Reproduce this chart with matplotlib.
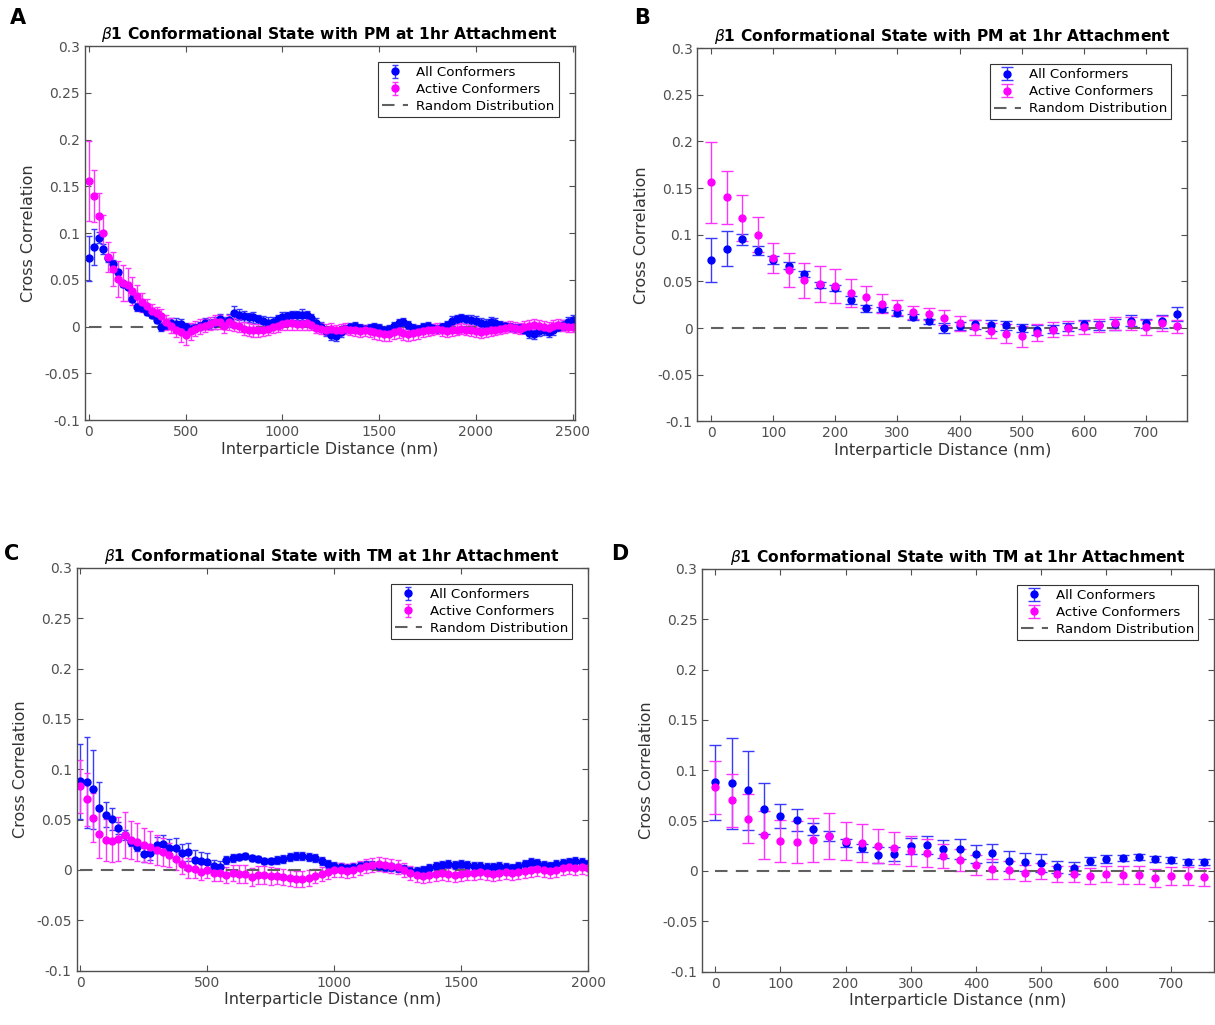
import numpy as np
import matplotlib.pyplot as plt
from matplotlib.ticker import FuncFormatter

plt.rcParams['font.family'] = 'DejaVu Sans'

# distance bins (nm), 25 nm spacing
dist_pm = np.arange(0, 2501, 25)
dist_tm = np.arange(0, 2001, 25)

# PM, all conformers
pm_all = [0.073, 0.085, 0.095, 0.083, 0.073, 0.067, 0.058, 0.046, 0.043, 0.030,
          0.021, 0.020, 0.016, 0.012, 0.007, 0.000, 0.002, 0.004, 0.003, 0.003,
          0.000, -0.002, -0.001, 0.001, 0.004, 0.003, 0.004, 0.008, 0.005, 0.007,
          0.015, 0.013, 0.011, 0.010, 0.010, 0.008, 0.006, 0.004, 0.005, 0.008,
          0.010, 0.011, 0.012, 0.012, 0.013, 0.012, 0.009, 0.004, 0.000, -0.005,
          -0.009, -0.010, -0.006, -0.002, 0.000, 0.001, -0.001, -0.002, -0.001, 0.000,
          -0.001, -0.003, -0.002, 0.001, 0.004, 0.005, 0.002, -0.001, -0.002, 0.000,
          0.001, -0.001, -0.002, 0.000, 0.002, 0.006, 0.008, 0.009, 0.008, 0.007,
          0.006, 0.004, 0.003, 0.005, 0.004, 0.002, 0.001, 0.000, -0.001, -0.001,
          -0.003, -0.007, -0.008, -0.005, -0.004, -0.006, -0.004, 0.000, 0.002, 0.005,
          0.007]
pm_all_err = [0.024, 0.019, 0.006, 0.005, 0.004, 0.004, 0.003, 0.003, 0.003, 0.004,
              0.004, 0.003, 0.003, 0.003, 0.003, 0.005, 0.004, 0.005, 0.006, 0.005,
              0.004, 0.005, 0.004, 0.004, 0.005, 0.005, 0.006, 0.006, 0.005, 0.007,
              0.007, 0.006, 0.006, 0.005, 0.006, 0.005, 0.005, 0.006, 0.005, 0.005,
              0.006, 0.005, 0.005, 0.005, 0.006, 0.005, 0.005, 0.005, 0.005, 0.005,
              0.005, 0.005, 0.005, 0.004, 0.004, 0.004, 0.004, 0.004, 0.004, 0.004,
              0.004, 0.004, 0.004, 0.004, 0.004, 0.004, 0.004, 0.004, 0.004, 0.004,
              0.004, 0.004, 0.004, 0.004, 0.004, 0.005, 0.005, 0.005, 0.005, 0.005,
              0.005, 0.005, 0.005, 0.005, 0.005, 0.004, 0.004, 0.004, 0.004, 0.004,
              0.004, 0.005, 0.005, 0.005, 0.005, 0.005, 0.005, 0.005, 0.005, 0.005,
              0.005]

# PM, active conformers
pm_act = [0.156, 0.140, 0.118, 0.100, 0.075, 0.062, 0.051, 0.047, 0.045, 0.038,
          0.033, 0.026, 0.022, 0.017, 0.015, 0.011, 0.005, 0.001, -0.003, -0.006,
          -0.009, -0.005, -0.002, 0.000, 0.001, 0.003, 0.005, 0.005, 0.001, 0.005,
          0.002, 0.001, -0.002, -0.003, -0.004, -0.004, -0.003, -0.002, 0.000, 0.001,
          0.003, 0.004, 0.004, 0.003, 0.003, 0.004, 0.002, -0.001, -0.002, -0.003,
          -0.002, -0.004, -0.003, -0.002, -0.003, -0.004, -0.005, -0.004, -0.005, -0.006,
          -0.007, -0.008, -0.008, -0.006, -0.005, -0.007, -0.008, -0.007, -0.006, -0.005,
          -0.004, -0.003, -0.002, -0.004, -0.005, -0.004, -0.003, -0.002, -0.003, -0.004,
          -0.005, -0.006, -0.005, -0.004, -0.003, -0.002, -0.001, 0.000, -0.001, -0.002,
          0.000, 0.001, 0.002, 0.001, 0.000, -0.001, 0.001, 0.002, 0.001, 0.000,
          0.000]
pm_act_err = [0.043, 0.028, 0.025, 0.019, 0.016, 0.018, 0.019, 0.019, 0.018, 0.015,
              0.012, 0.010, 0.008, 0.007, 0.006, 0.008, 0.008, 0.008, 0.008, 0.010,
              0.011, 0.009, 0.008, 0.008, 0.007, 0.007, 0.007, 0.007, 0.008, 0.008,
              0.007, 0.007, 0.007, 0.007, 0.007, 0.007, 0.007, 0.007, 0.007, 0.007,
              0.007, 0.007, 0.007, 0.007, 0.007, 0.007, 0.006, 0.006, 0.006, 0.006,
              0.006, 0.006, 0.006, 0.006, 0.006, 0.006, 0.006, 0.006, 0.006, 0.007,
              0.007, 0.007, 0.007, 0.007, 0.007, 0.007, 0.007, 0.007, 0.007, 0.006,
              0.006, 0.006, 0.006, 0.006, 0.006, 0.006, 0.006, 0.006, 0.006, 0.006,
              0.006, 0.006, 0.006, 0.006, 0.006, 0.006, 0.006, 0.006, 0.006, 0.006,
              0.006, 0.006, 0.006, 0.006, 0.006, 0.006, 0.006, 0.006, 0.006, 0.006,
              0.006]

# TM, all conformers
tm_all = [0.088, 0.087, 0.080, 0.062, 0.055, 0.051, 0.042, 0.035, 0.028, 0.023,
          0.016, 0.017, 0.025, 0.026, 0.022, 0.022, 0.017, 0.018, 0.010, 0.009,
          0.008, 0.004, 0.003, 0.010, 0.012, 0.013, 0.014, 0.012, 0.011, 0.009,
          0.009, 0.010, 0.011, 0.013, 0.014, 0.014, 0.013, 0.012, 0.009, 0.006,
          0.004, 0.003, 0.002, 0.003, 0.004, 0.005, 0.005, 0.004, 0.003, 0.003,
          0.002, 0.001, -0.001, -0.001, 0.000, 0.002, 0.004, 0.005, 0.006, 0.005,
          0.006, 0.005, 0.004, 0.004, 0.003, 0.003, 0.004, 0.003, 0.002, 0.004,
          0.006, 0.008, 0.007, 0.005, 0.004, 0.006, 0.007, 0.008, 0.009, 0.008,
          0.006]
tm_all_err = [0.037, 0.045, 0.039, 0.025, 0.012, 0.011, 0.006, 0.005, 0.004, 0.004,
              0.008, 0.007, 0.008, 0.009, 0.009, 0.010, 0.009, 0.009, 0.010, 0.009,
              0.009, 0.006, 0.006, 0.004, 0.004, 0.003, 0.003, 0.003, 0.003, 0.003,
              0.003, 0.004, 0.004, 0.004, 0.004, 0.004, 0.004, 0.004, 0.004, 0.004,
              0.004, 0.004, 0.004, 0.004, 0.004, 0.004, 0.004, 0.004, 0.004, 0.004,
              0.004, 0.004, 0.004, 0.004, 0.004, 0.004, 0.004, 0.004, 0.004, 0.004,
              0.004, 0.004, 0.004, 0.004, 0.004, 0.004, 0.004, 0.004, 0.004, 0.004,
              0.004, 0.004, 0.004, 0.004, 0.004, 0.004, 0.004, 0.004, 0.004, 0.004,
              0.004]

# TM, active conformers
tm_act = [0.083, 0.070, 0.052, 0.036, 0.030, 0.029, 0.031, 0.035, 0.030, 0.028,
          0.025, 0.023, 0.020, 0.018, 0.015, 0.011, 0.006, 0.002, 0.001, -0.002,
          0.000, -0.003, -0.003, -0.005, -0.003, -0.004, -0.004, -0.007, -0.005, -0.005,
          -0.006, -0.006, -0.007, -0.008, -0.009, -0.009, -0.008, -0.006, -0.004, -0.002,
          0.000, 0.000, -0.001, 0.000, 0.002, 0.004, 0.005, 0.006, 0.005, 0.004,
          0.003, 0.000, -0.003, -0.005, -0.006, -0.005, -0.004, -0.003, -0.004, -0.005,
          -0.004, -0.003, -0.003, -0.002, -0.003, -0.004, -0.003, -0.002, -0.003, -0.002,
          -0.001, 0.000, 0.001, 0.000, -0.001, 0.000, 0.002, 0.003, 0.002, 0.003,
          0.002]
tm_act_err = [0.026, 0.026, 0.024, 0.024, 0.021, 0.021, 0.022, 0.023, 0.019, 0.019,
              0.017, 0.016, 0.015, 0.014, 0.012, 0.011, 0.010, 0.010, 0.009, 0.008,
              0.008, 0.008, 0.008, 0.008, 0.008, 0.009, 0.009, 0.009, 0.009, 0.009,
              0.009, 0.008, 0.008, 0.008, 0.008, 0.008, 0.008, 0.007, 0.007, 0.007,
              0.007, 0.007, 0.007, 0.007, 0.007, 0.007, 0.007, 0.007, 0.007, 0.007,
              0.007, 0.007, 0.007, 0.007, 0.007, 0.007, 0.007, 0.007, 0.007, 0.007,
              0.007, 0.007, 0.007, 0.007, 0.007, 0.007, 0.007, 0.007, 0.007, 0.007,
              0.007, 0.007, 0.007, 0.007, 0.007, 0.007, 0.007, 0.007, 0.007, 0.007,
              0.007]

grey = '#505050'


def panel(ax, x, y_all, e_all, y_act, e_act, title, xlim, xticks, cap):
    h1 = ax.errorbar(x, y_all, yerr=e_all, fmt='o', color='#0000ff', ecolor='#3a3aff',
                     markersize=5, elinewidth=1, capsize=cap, capthick=1)
    h2 = ax.errorbar(x, y_act, yerr=e_act, fmt='o', color='#ff00ff', ecolor='#ff33ff',
                     markersize=5, elinewidth=1, capsize=cap, capthick=1)
    h3, = ax.plot([x[0], x[-1]], [0, 0], '--', color='#606060', lw=1.5, dashes=(6, 4))
    ax.set_xlim(*xlim)
    ax.set_ylim(-0.1, 0.3)
    ax.set_xticks(xticks)
    ax.set_yticks(np.arange(-0.1, 0.301, 0.05))
    ax.yaxis.set_major_formatter(FuncFormatter(lambda v, p: '%g' % round(v, 2)))
    ax.tick_params(direction='in', top=True, right=True, length=4, width=0.8,
                   colors=grey, labelsize=10, labelcolor=grey)
    for s in ax.spines.values():
        s.set_color(grey)
        s.set_linewidth(1)
    ax.set_xlabel('Interparticle Distance (nm)', fontsize=11.5, color='#333333', labelpad=2)
    ax.set_ylabel('Cross Correlation', fontsize=11.5, color='#333333', labelpad=6)
    ax.set_title(title, fontsize=11.2, fontweight='bold', pad=5)
    leg = ax.legend([h1, h2, h3], ['All Conformers', 'Active Conformers', 'Random Distribution'],
                    loc='upper right', fontsize=9.6, fancybox=False, framealpha=1,
                    edgecolor='#333333', handlelength=2.0, borderaxespad=1.2,
                    labelspacing=0.3, borderpad=0.3, handletextpad=0.6)
    leg.get_frame().set_linewidth(0.8)


fig = plt.figure(figsize=(12.15, 10.25), dpi=100)
ax_a = fig.add_axes([0.070, 0.590, 0.403, 0.365])
ax_b = fig.add_axes([0.574, 0.589, 0.403, 0.364])
ax_c = fig.add_axes([0.063, 0.053, 0.421, 0.393])
ax_d = fig.add_axes([0.578, 0.052, 0.421, 0.393])

t_pm = r'$\beta$1 Conformational State with PM at 1hr Attachment'
t_tm = r'$\beta$1 Conformational State with TM at 1hr Attachment'

panel(ax_a, dist_pm, pm_all, pm_all_err, pm_act, pm_act_err, t_pm,
      (-20, 2510), np.arange(0, 2501, 500), 2.5)
panel(ax_b, dist_pm, pm_all, pm_all_err, pm_act, pm_act_err, t_pm,
      (-22, 766), np.arange(0, 701, 100), 4)
panel(ax_c, dist_tm, tm_all, tm_all_err, tm_act, tm_act_err, t_tm,
      (-15, 2000), np.arange(0, 2001, 500), 2.5)
panel(ax_d, dist_tm, tm_all, tm_all_err, tm_act, tm_act_err, t_tm,
      (-20, 765), np.arange(0, 701, 100), 4)

for lbl, x, y in [('A', 0.008, 0.982), ('B', 0.522, 0.982),
                  ('C', 0.003, 0.460), ('D', 0.503, 0.460)]:
    fig.text(x, y, lbl, fontsize=15, fontweight='bold', va='center')

fig.savefig('out.png', dpi=100)
